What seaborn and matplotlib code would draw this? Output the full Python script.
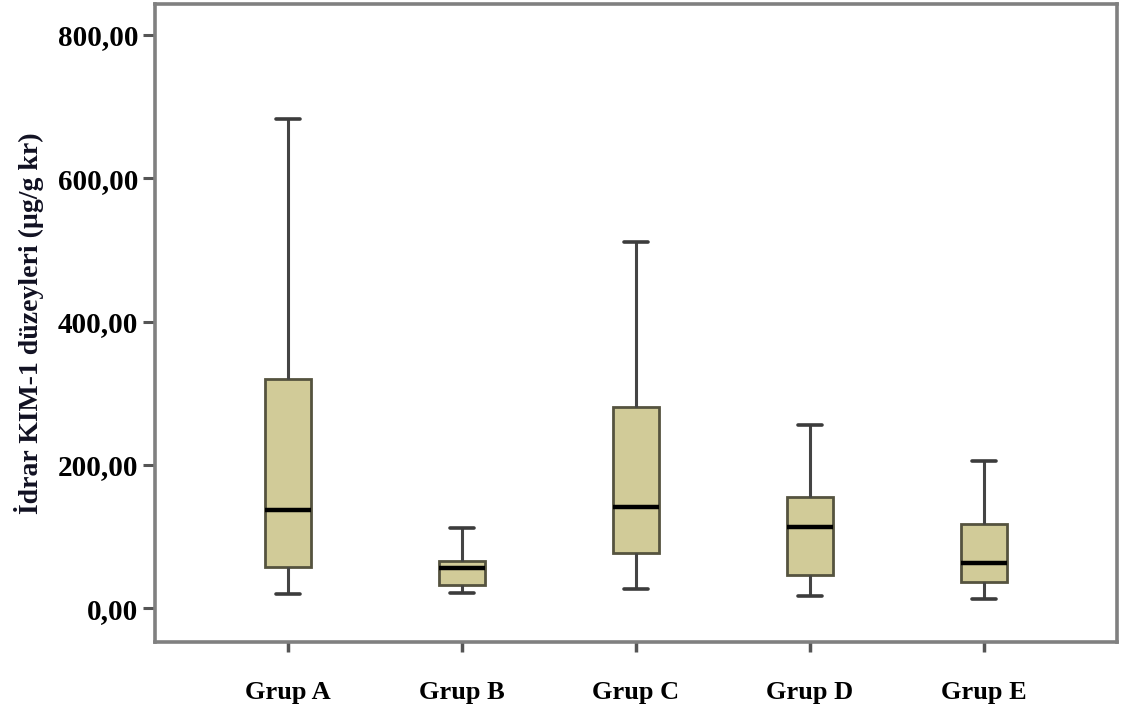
import numpy as np
import pandas as pd
import matplotlib
matplotlib.use("Agg")
import matplotlib.pyplot as plt
import matplotlib.transforms as mtransforms
import seaborn as sns

# Five-number summaries (whisker low, Q1, median, Q3, whisker high)
groups = ["Grup A", "Grup B", "Grup C", "Grup D", "Grup E"]
whisker_low = [20, 21, 27, 17, 13]
q1 = [57, 32, 77, 47, 36]
median = [137, 56, 141, 113, 63]
q3 = [320, 66, 281, 155, 118]
whisker_high = [682, 112, 511, 256, 205]

y_ticks = [0, 200, 400, 600, 800]
y_tick_labels = ["0,00", "200,00", "400,00", "600,00", "800,00"]
y_label = "İdrar KIM-1 düzeyleri (µg/g kr)"

rows = []
for g, a, b, c, d, e in zip(groups, whisker_low, q1, median, q3, whisker_high):
    for v in (a, b, c, d, e):
        rows.append({"group": g, "value": v})
df = pd.DataFrame(rows)

sns.set_theme(style="white")
plt.rcParams["font.family"] = ["Liberation Serif", "DejaVu Serif"]
plt.rcParams["font.weight"] = "bold"

fig = plt.figure(figsize=(11.21, 7.04), dpi=100)
ax = fig.add_axes([0.1383, 0.0881, 0.8581, 0.9062])

box_face = "#D1CB98"
sns.boxplot(
    data=df, x="group", y="value", order=groups, whis=np.inf,
    width=0.267, color=box_face, linecolor="#3c3c3c", linewidth=2.0,
    showfliers=False, ax=ax,
    boxprops=dict(facecolor=box_face, edgecolor="#55533f", linewidth=2.0),
    medianprops=dict(color="black", linewidth=3.2),
    whiskerprops=dict(color="#444444", linewidth=2.2),
    capprops=dict(color="#3c3c3c", linewidth=2.6),
)

ax.set_xlim(-0.764, 4.764)
ax.set_ylim(-47, 843)
ax.set_yticks(y_ticks)
ax.set_yticklabels(y_tick_labels)
ax.set_xlabel("")
ax.set_ylabel(y_label, fontsize=20, fontweight="bold", color="#111122", labelpad=10)

for lab in ax.get_yticklabels():
    lab.set_fontsize(21)
    lab.set_fontweight("bold")
shift = mtransforms.ScaledTranslation(-8 / 100, 0, fig.dpi_scale_trans)
for lab in ax.get_xticklabels():
    lab.set_fontsize(19)
    lab.set_fontweight("bold")
    lab.set_transform(lab.get_transform() + shift)

ax.tick_params(axis="y", direction="out", length=9, width=2.2, color="#555555",
               pad=3, left=True, labelcolor="black")
ax.tick_params(axis="x", direction="out", length=7, width=2.5, color="#555555",
               pad=21, bottom=True, labelcolor="black")

for s in ax.spines.values():
    s.set_visible(True)
    s.set_color("#808080")
    s.set_linewidth(2.6)

fig.savefig("out.png", dpi=100, facecolor="white")
